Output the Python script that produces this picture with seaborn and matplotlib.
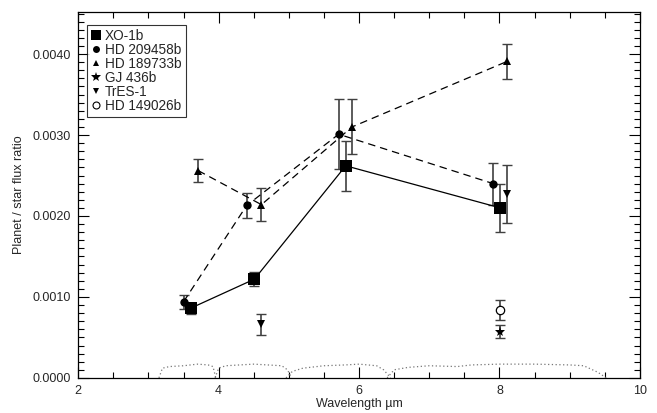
import numpy as np
import pandas as pd
import matplotlib
matplotlib.use("Agg")
import matplotlib.pyplot as plt
from matplotlib.lines import Line2D
from matplotlib.ticker import MultipleLocator, FormatStrFormatter
import seaborn as sns

# ---------------------------------------------------------------
# Data (wavelength in micron, planet/star flux)
# ---------------------------------------------------------------
xo1_wave = [3.60, 4.51, 5.81, 8.01]
xo1_flux = [0.00086, 0.00122, 0.00262, 0.00210]
xo1_err = [0.00007, 0.00009, 0.00031, 0.00030]

hd209_wave = [3.50, 4.40, 5.71, 7.91]
hd209_flux = [0.00094, 0.00213, 0.00301, 0.00240]
hd209_err = [0.00009, 0.00015, 0.00043, 0.00026]

hd189_wave = [3.71, 4.61, 5.90, 8.11]
hd189_flux = [0.00256, 0.00214, 0.00310, 0.00391]
hd189_err = [0.00014, 0.00020, 0.00034, 0.00022]

gj436_wave = [8.01]
gj436_flux = [0.00057]
gj436_err = [0.00008]

tres1_wave = [4.61, 8.11]
tres1_flux = [0.00066, 0.00227]
tres1_err = [0.00013, 0.00036]

hd149_wave = [8.01]
hd149_flux = [0.00084]
hd149_err = [0.00012]

# IRAC bandpass outlines (dotted, scaled)
band1_wave = [3.15, 3.20, 3.30, 3.50, 3.70, 3.85, 3.92, 3.96]
band1_resp = [0.0, 0.00012, 0.00014, 0.00015, 0.00017, 0.00016, 0.00014, 0.0]
band2_wave = [3.95, 4.00, 4.10, 4.30, 4.50, 4.70, 4.90, 4.98, 5.04]
band2_resp = [0.0, 0.00012, 0.00015, 0.00016, 0.00017, 0.00016, 0.00015, 0.00010, 0.0]
band3_wave = [4.96, 5.05, 5.20, 5.50, 5.80, 6.00, 6.25, 6.35, 6.45]
band3_resp = [0.0, 0.00008, 0.00012, 0.00015, 0.00016, 0.00017, 0.00015, 0.00010, 0.0]
band4_wave = [6.40, 6.50, 6.70, 7.00, 7.40, 7.60, 8.00, 8.50, 9.00, 9.20, 9.40, 9.52]
band4_resp = [0.0, 0.00010, 0.00013, 0.00015, 0.00014, 0.00016, 0.00017, 0.00017, 0.00016, 0.00015, 0.00007, 0.0]

labels = ['XO-1b', 'HD 209458b', 'HD 189733b', 'GJ 436b', 'TrES-1', 'HD 149026b']

sns.set_style("ticks")
plt.rcParams['font.family'] = ['Liberation Sans', 'DejaVu Sans']

fig = plt.figure(figsize=(6.57, 4.13), dpi=100)
ax = fig.add_axes([0.119, 0.085, 0.855, 0.886])

# filter curves
for bw, br in [(band1_wave, band1_resp), (band2_wave, band2_resp),
               (band3_wave, band3_resp), (band4_wave, band4_resp)]:
    sns.lineplot(x=bw, y=br, ax=ax, color='#777777', linestyle=(0, (1, 2)), lw=0.9,
                 sort=False, estimator=None)

err_kw = dict(fmt='none', ecolor='#404040', elinewidth=1.2, capsize=3.5, capthick=1.0)

ax.errorbar(xo1_wave, xo1_flux, yerr=xo1_err, **err_kw)
ax.errorbar(hd209_wave, hd209_flux, yerr=hd209_err, **err_kw)
ax.errorbar(hd189_wave, hd189_flux, yerr=hd189_err, **err_kw)
ax.errorbar(gj436_wave, gj436_flux, yerr=gj436_err, **err_kw)
ax.errorbar(tres1_wave, tres1_flux, yerr=tres1_err, **err_kw)
ax.errorbar(hd149_wave, hd149_flux, yerr=hd149_err, **err_kw)

# connected series
sns.lineplot(x=xo1_wave, y=xo1_flux, ax=ax, color='black', lw=0.9,
             marker='s', markersize=9, markeredgewidth=0, sort=False, estimator=None)
sns.lineplot(x=hd209_wave, y=hd209_flux, ax=ax, color='black', lw=0.9,
             linestyle=(0, (6, 4)), marker='o', markersize=6, markeredgewidth=0,
             sort=False, estimator=None)
sns.lineplot(x=hd189_wave, y=hd189_flux, ax=ax, color='black', lw=0.9,
             linestyle=(0, (6, 4)), marker='^', markersize=6, markeredgewidth=0,
             sort=False, estimator=None)

# isolated points
ax.plot(gj436_wave, gj436_flux, linestyle='none', marker='*', markersize=8,
        color='black', markeredgewidth=0)
ax.plot(tres1_wave, tres1_flux, linestyle='none', marker='v', markersize=6,
        color='black', markeredgewidth=0)
ax.plot(hd149_wave, hd149_flux, linestyle='none', marker='o', markersize=6,
        markerfacecolor='white', markeredgecolor='black', markeredgewidth=0.9)

ax.set_xlim(2, 10)
ax.set_ylim(0, 0.00452)
ax.xaxis.set_major_locator(MultipleLocator(2))
ax.xaxis.set_minor_locator(MultipleLocator(0.5))
ax.yaxis.set_major_locator(MultipleLocator(0.001))
ax.yaxis.set_minor_locator(MultipleLocator(0.0001))
ax.yaxis.set_major_formatter(FormatStrFormatter('%.4f'))
ax.tick_params(which='both', direction='in', top=True, right=True,
               color='black', labelsize=9, pad=5)
ax.tick_params(which='major', length=8, width=0.8)
ax.tick_params(which='minor', length=4, width=0.8)
for sp in ax.spines.values():
    sp.set_linewidth(0.9)
    sp.set_color('black')

ax.set_xlabel('Wavelength µm', fontsize=9, labelpad=1)
ax.set_ylabel('Planet / star flux ratio', fontsize=9, labelpad=6)

handles = [
    Line2D([], [], linestyle='none', marker='s', color='black', markersize=7, markeredgewidth=0),
    Line2D([], [], linestyle='none', marker='o', color='black', markersize=5, markeredgewidth=0),
    Line2D([], [], linestyle='none', marker='^', color='black', markersize=5, markeredgewidth=0),
    Line2D([], [], linestyle='none', marker='*', color='black', markersize=7, markeredgewidth=0),
    Line2D([], [], linestyle='none', marker='v', color='black', markersize=5, markeredgewidth=0),
    Line2D([], [], linestyle='none', marker='o', markerfacecolor='white',
           markeredgecolor='black', markersize=5, markeredgewidth=0.8),
]
leg = ax.legend(handles, labels, loc='upper left', bbox_to_anchor=(0.016, 0.964),
                fontsize=9.8, frameon=True, fancybox=False, handlelength=0.7,
                handletextpad=0.3, labelspacing=0.0, borderpad=0.3,
                borderaxespad=0.0)
leg.get_frame().set_edgecolor('black')
leg.get_frame().set_linewidth(0.8)

fig.savefig('out.png', dpi=100)
